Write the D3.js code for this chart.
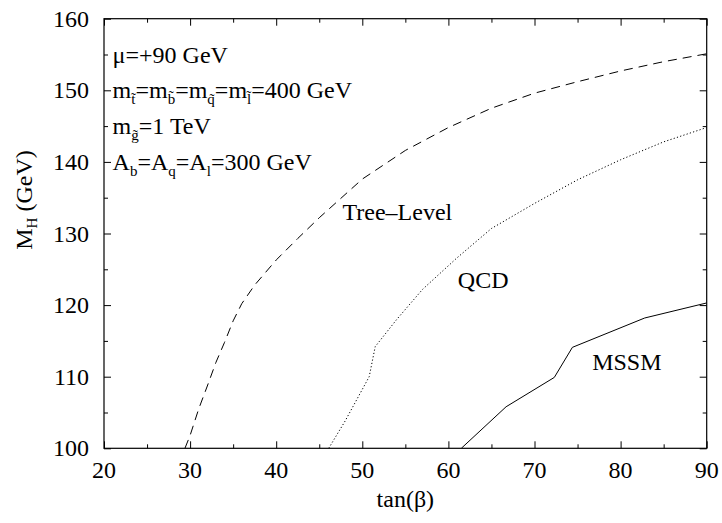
<!DOCTYPE html>
<html>
<head>
<meta charset="utf-8">
<script src="https://cdn.jsdelivr.net/npm/d3@7"></script>
<style>
  html, body { margin: 0; padding: 0; background: #fff; }
  svg text { font-family: "Liberation Serif", "Times New Roman", serif; fill: #000; }
</style>
</head>
<body>
<svg id="chart" width="722" height="523"></svg>
<script>
// tan(beta) values and Higgs mass bound M_H (GeV) for each approximation
const treeLevel = [
  [29.4, 100], [30, 101.8], [31, 105.5], [32, 108.7], [33, 112], [34, 114.8],
  [35, 117.8], [36, 120.2], [37.5, 122.8], [40, 126.3], [42.5, 129.3],
  [45, 132.2], [47.5, 134.9], [50, 137.6], [55, 141.6], [60, 144.8],
  [65, 147.5], [70, 149.6], [75, 151.2], [80, 152.7], [85, 154], [90, 155.1]
];
const qcd = [
  [46.1, 100], [48, 103.8], [50.8, 110], [51.5, 114.2], [54, 118],
  [57, 122.2], [61, 126.6], [65, 130.7], [70, 134.2], [75, 137.5],
  [80, 140.3], [85, 142.8], [90, 144.8]
];
const mssm = [
  [61.5, 100], [66.7, 105.8], [72.3, 109.9], [74.4, 114.1],
  [82.8, 118.2], [90, 120.3]
];

const xTickValues = [20, 30, 40, 50, 60, 70, 80, 90];
const yTickValues = [100, 110, 120, 130, 140, 150, 160];
const xMinorTicks = [25, 35, 45, 55, 65, 75, 85];
const yMinorTicks = [105, 115, 125, 135, 145, 155];

const svg = d3.select("#chart");
const W = 722, H = 523;
const margin = { left: 104, right: 722 - 706.7, top: 18.7, bottom: 523 - 448.3 };
const FS = 24;

svg.append("rect").attr("width", W).attr("height", H).attr("fill", "#fff");

const x = d3.scaleLinear().domain([20, 90]).range([margin.left, W - margin.right]);
const y = d3.scaleLinear().domain([100, 160]).range([H - margin.bottom, margin.top]);

const x0 = x.range()[0], x1 = x.range()[1];
const y0 = y.range()[0], y1 = y.range()[1];

svg.append("clipPath").attr("id", "plotclip")
  .append("rect").attr("x", x0).attr("y", y1).attr("width", x1 - x0).attr("height", y0 - y1);

// Inward ticks mirrored on all four sides
const MAJ = 7, MIN = 4;
const axes = svg.append("g");
function addAxis(axisFn, scale, pos, values, size, horizontal) {
  axes.append("g")
    .attr("transform", horizontal ? `translate(0,${pos})` : `translate(${pos},0)`)
    .call(axisFn(scale).tickValues(values).tickSize(-size).tickFormat(""));
}
addAxis(d3.axisBottom, x, y0, xTickValues, MAJ, true);
addAxis(d3.axisBottom, x, y0, xMinorTicks, MIN, true);
addAxis(d3.axisTop, x, y1, xTickValues, MAJ, true);
addAxis(d3.axisTop, x, y1, xMinorTicks, MIN, true);
addAxis(d3.axisLeft, y, x0, yTickValues, MAJ, false);
addAxis(d3.axisLeft, y, x0, yMinorTicks, MIN, false);
addAxis(d3.axisRight, y, x1, yTickValues, MAJ, false);
addAxis(d3.axisRight, y, x1, yMinorTicks, MIN, false);
axes.selectAll(".domain").remove();
axes.selectAll(".tick line").attr("stroke", "#000").attr("stroke-width", 1);

// Frame
svg.append("rect").attr("x", x0).attr("y", y1).attr("width", x1 - x0).attr("height", y0 - y1)
  .attr("fill", "none").attr("stroke", "#000").attr("stroke-width", 1.2);

// Tick labels
svg.append("g").selectAll("text").data(xTickValues).join("text")
  .attr("x", d => x(d)).attr("y", y0 + 30)
  .attr("text-anchor", "middle").attr("font-size", FS).text(d => d);
svg.append("g").selectAll("text").data(yTickValues).join("text")
  .attr("x", x0 - 15).attr("y", d => y(d) + 8)
  .attr("text-anchor", "end").attr("font-size", FS).text(d => d);

// Axis titles
svg.append("text").attr("x", (x0 + x1) / 2).attr("y", 507)
  .attr("text-anchor", "middle").attr("font-size", FS).text("tan(β)");
const yt = svg.append("text")
  .attr("transform", `translate(32,200) rotate(-90)`)
  .attr("text-anchor", "middle").attr("font-size", FS);
yt.append("tspan").text("M");
yt.append("tspan").attr("font-size", 15).attr("dy", 5).text("H");
yt.append("tspan").attr("dy", -5).text(" (GeV)");

// Curves
const line = d3.line().x(d => x(d[0])).y(d => y(d[1]));
const curves = svg.append("g").attr("clip-path", "url(#plotclip)");
curves.append("path").datum(treeLevel).attr("d", line)
  .attr("fill", "none").attr("stroke", "#000").attr("stroke-width", 1)
  .attr("stroke-dasharray", "9,6");
curves.append("path").datum(qcd).attr("d", line)
  .attr("fill", "none").attr("stroke", "#000").attr("stroke-width", 1)
  .attr("stroke-dasharray", "1.2,2.2");
curves.append("path").datum(mssm).attr("d", line)
  .attr("fill", "none").attr("stroke", "#000").attr("stroke-width", 1);

// Curve labels
function label(tx, ty, str) {
  svg.append("text").attr("x", x(tx)).attr("y", y(ty) + 8)
    .attr("font-size", FS).text(str);
}
label(47.7, 133, "Tree–Level");
label(61.1, 123.5, "QCD");
label(76.7, 112.1, "MSSM");

// Parameter annotations (text with subscripts)
function rich(tx, ty, parts) {
  const t = svg.append("text").attr("x", x(tx)).attr("y", y(ty) + 8).attr("font-size", FS);
  let shifted = false;
  parts.forEach(p => {
    const s = t.append("tspan").text(p.s);
    if (p.sub && !shifted) { s.attr("font-size", 15).attr("dy", 6); shifted = true; }
    else if (!p.sub && shifted) { s.attr("dy", -6); shifted = false; }
    else if (p.sub) s.attr("font-size", 15);
  });
}
rich(21, 155, [{ s: "μ=+90 GeV" }]);
rich(21, 150, [
  { s: "m" }, { s: "t\u0303", sub: true }, { s: "=m" }, { s: "b\u0303", sub: true },
  { s: "=m" }, { s: "q\u0303", sub: true }, { s: "=m" }, { s: "l\u0303", sub: true },
  { s: "=400 GeV" }
]);
rich(21, 145, [{ s: "m" }, { s: "g\u0303", sub: true }, { s: "=1 TeV" }]);
rich(21, 140, [
  { s: "A" }, { s: "b", sub: true }, { s: "=A" }, { s: "q", sub: true },
  { s: "=A" }, { s: "l", sub: true }, { s: "=300 GeV" }
]);
</script>
</body>
</html>
